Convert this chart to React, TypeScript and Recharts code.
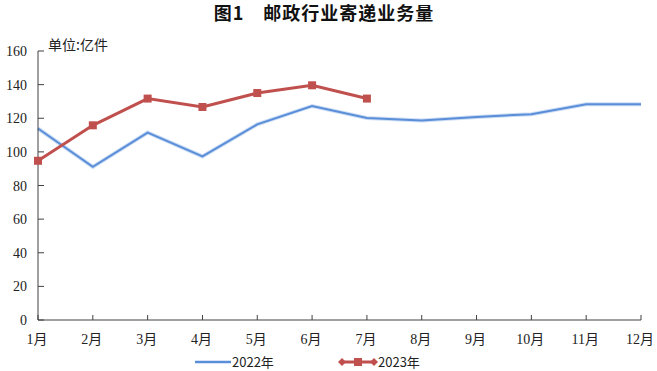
import React from 'react';
import { LineChart, Line, XAxis, YAxis } from 'recharts';

const months = ['1月', '2月', '3月', '4月', '5月', '6月', '7月', '8月', '9月', '10月', '11月', '12月'];
const values2022 = [113.9, 91.1, 111.5, 97.3, 116.4, 127.3, 120.2, 118.6, 120.8, 122.4, 128.3, 128.3];
const values2023 = [94.7, 115.8, 131.7, 126.7, 135.0, 139.6, 131.7];
const yTicks = [0, 20, 40, 60, 80, 100, 120, 140, 160];

const data = months.map((m, i) => ({
  name: m,
  y2022: values2022[i],
  y2023: i < values2023.length ? values2023[i] : null,
}));

const tickFont = '"Liberation Serif", "Noto Sans CJK SC", serif';
const cjkFont = '"Noto Sans CJK SC", sans-serif';

const YTick = (props: any) => {
  const { x, y, payload } = props;
  return (
    <g>
      <line x1={x} x2={x + 6} y1={y} y2={y} stroke="#404040" strokeWidth={1} />
      <text x={x - 11} y={y} dy={5} textAnchor="end" fontSize={14} fill="#222" fontFamily={tickFont}>
        {payload.value}
      </text>
    </g>
  );
};

const XTick = (props: any) => {
  const { x, y, payload } = props;
  return (
    <g>
      <line x1={x} x2={x} y1={y} y2={y - 5} stroke="#404040" strokeWidth={1} />
      <text x={x - 1} y={y + 20} dy={4} textAnchor="middle" fontSize={14} fill="#222" fontFamily={tickFont}>
        {payload.value}
      </text>
    </g>
  );
};

const SquareDot = (props: any) => {
  const { cx, cy, index } = props;
  if (cx == null || cy == null) return <g key={index} />;
  return <rect key={index} x={cx - 4} y={cy - 4} width={8} height={8} fill="#C0504D" />;
};

export default function App() {
  return (
    <div style={{ position: 'absolute', left: 0, top: 0, width: 657, height: 371, background: '#fff' }}>
      <div
        style={{
          position: 'absolute', left: 0, top: -1, width: 648, textAlign: 'center',
          fontFamily: cjkFont, fontWeight: 'bold', fontSize: 18, letterSpacing: 1, color: '#111',
        }}
      >
        图1　邮政行业寄递业务量
      </div>
      <div style={{ position: 'absolute', left: 48, top: 34, fontFamily: cjkFont, fontSize: 14, color: '#222' }}>
        单位:亿件
      </div>
      <LineChart width={657} height={371} data={data} margin={{ top: 51, right: 16, left: 0, bottom: 21 }}>
        <XAxis
          dataKey="name"
          height={30}
          axisLine={{ stroke: '#404040' }}
          tickLine={false}
          tickSize={0}
          tickMargin={0}
          tick={<XTick />}
          interval={0}
        />
        <YAxis
          width={38}
          domain={[0, 160]}
          ticks={yTicks}
          axisLine={{ stroke: '#404040' }}
          tickLine={false}
          tickSize={0}
          tickMargin={0}
          tick={<YTick />}
          interval={0}
        />
        <Line
          dataKey="y2022"
          stroke="#6c9de0"
          strokeWidth={4}
          strokeOpacity={0.35}
          dot={false}
          activeDot={false}
          legendType="none"
          isAnimationActive={false}
        />
        <Line dataKey="y2022" stroke="#5a8ed8" strokeWidth={2} dot={false} isAnimationActive={false} />
        <Line
          dataKey="y2023"
          stroke="#C0504D"
          strokeWidth={3}
          dot={<SquareDot />}
          connectNulls={false}
          isAnimationActive={false}
        />
      </LineChart>
      <div style={{ position: 'absolute', left: 0, top: 353, width: 657, height: 18 }}>
        <svg width={657} height={18} style={{ position: 'absolute', left: 0, top: 0 }}>
          <line x1={195} x2={231} y1={9} y2={9} stroke="#5a8ed8" strokeWidth={2.5} />
          <text x={232} y={14} fontSize={13} fill="#222" fontFamily={cjkFont}>2022年</text>
          <line x1={340} x2={376} y1={9} y2={9} stroke="#C0504D" strokeWidth={3} />
          <polygon points="338,9 342,5 346,9 342,13" fill="#C0504D" />
          <polygon points="370,9 374,5 378,9 374,13" fill="#C0504D" />
          <rect x={354} y={5} width={8} height={8} fill="#C0504D" />
          <text x={378} y={14} fontSize={13} fill="#222" fontFamily={cjkFont}>2023年</text>
        </svg>
      </div>
    </div>
  );
}
